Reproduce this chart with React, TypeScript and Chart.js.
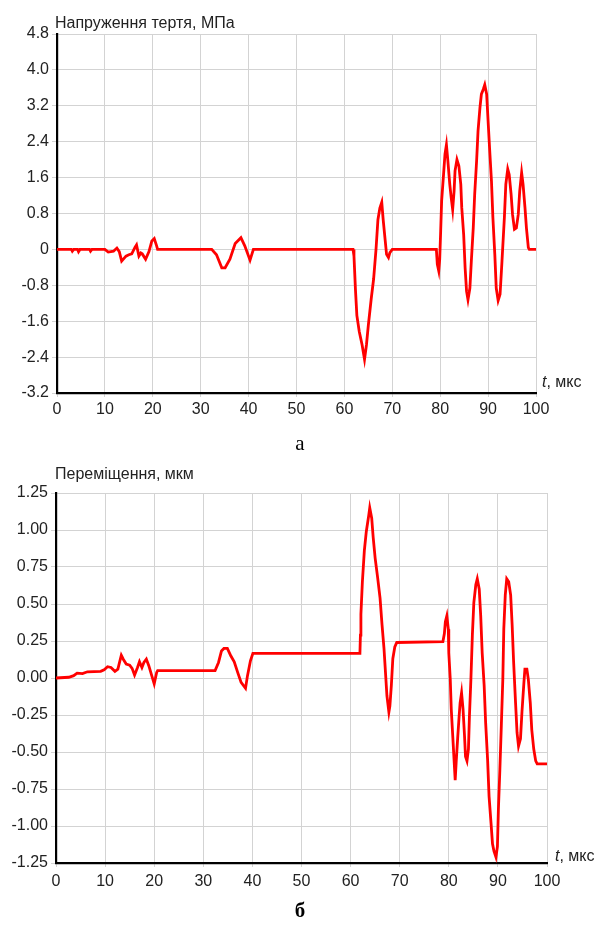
import React, { useEffect, useRef } from "react";
import { Chart, registerables } from "chart.js";

Chart.register(...registerables);

// ---- Data ----
const X_TICKS = [0, 10, 20, 30, 40, 50, 60, 70, 80, 90, 100];
const Y1_TICKS = [-3.2, -2.4, -1.6, -0.8, 0, 0.8, 1.6, 2.4, 3.2, 4.0, 4.8];
const Y2_TICKS = [-1.25, -1.0, -0.75, -0.5, -0.25, 0, 0.25, 0.5, 0.75, 1.0, 1.25];

const TITLE_1 = "Напруження тертя, МПа";
const TITLE_2 = "Переміщення, мкм";
const X_UNIT = ", мкс";

// Friction stress, MPa
const T1 = [
  0, 3.0, 3.2, 3.5, 4.3, 4.5, 4.8, 6.8, 7.0, 7.3, 10.0, 10.7, 11.8, 12.5, 13.0, 13.5,
  14.4, 15.0, 15.6, 16.3, 16.6, 17.1, 17.5, 17.8, 18.5, 19.2, 19.8, 20.3, 20.8, 21.0,
  32.3, 33.3, 34.4, 35.1, 36.1, 37.2, 38.4, 39.2, 40.3, 41.0,
  61.8, 62.0, 62.3, 62.6, 63.1, 63.7, 64.2, 64.6, 65.0, 65.6, 66.1, 66.6, 67.0, 67.4,
  67.8, 68.1, 68.5, 68.8, 69.2, 69.5, 70.0,
  79.2, 79.4, 79.7, 79.9, 80.1, 80.3, 80.7, 81.0, 81.3, 81.6, 82.0, 82.3, 82.6, 82.9,
  83.1, 83.5, 83.9, 84.3, 84.5, 84.9, 85.2, 85.5, 85.8, 86.2, 86.5, 86.9, 87.2, 87.6,
  87.9, 88.3, 88.6, 89.0, 89.3, 89.7, 90.0, 90.3, 90.7, 91.0, 91.4, 91.7, 92.1, 92.5,
  92.9, 93.4, 93.7, 94.1, 94.4, 94.8, 95.1, 95.5, 95.9, 96.3, 96.6, 97.0, 97.3, 97.7,
  98.0, 98.4, 98.6, 100,
];
const STRESS = [
  0, 0, -0.04, 0, 0, -0.05, 0, 0, -0.04, 0, 0, -0.06, -0.04, 0.03, -0.05, -0.26,
  -0.15, -0.12, -0.1, 0.05, 0.1, -0.15, -0.08, -0.1, -0.22, -0.05, 0.19, 0.24, 0.08, 0,
  0, -0.12, -0.41, -0.41, -0.22, 0.13, 0.26, 0.08, -0.24, 0,
  0, -0.15, -0.88, -1.47, -1.83, -2.13, -2.45, -2.13, -1.69, -1.1, -0.66, 0, 0.66, 0.92,
  1.05, 0.66, 0.22, -0.11, -0.18, -0.07, 0,
  0, -0.33, -0.48, -0.22, 0.41, 1.08, 1.67, 2.12, 2.33, 1.97, 1.45, 1.15, 0.89, 1.3,
  1.75, 2.0, 1.86, 1.45, 0.93, 0.33, -0.41, -0.93, -1.12, -0.86, -0.26, 0.48, 1.23, 1.97,
  2.64, 3.16, 3.46, 3.57, 3.67, 3.46, 2.86, 2.27, 1.53, 0.71, -0.11, -0.86, -1.14, -1.0,
  -0.26, 0.71, 1.45, 1.79, 1.67, 1.23, 0.78, 0.45, 0.48, 0.78, 1.3, 1.71, 1.45, 0.93,
  0.48, 0.04, 0, 0,
];

// Displacement, µm
const T2 = [
  0, 2.6, 3.6, 4.3, 5.4, 6.4, 9.1, 9.8, 10.5, 11.2, 12.0, 12.6, 13.3, 13.7, 14.3, 15.0,
  15.5, 16.0, 16.6, 17.0, 17.5, 17.9, 18.4, 18.9, 19.5, 20.0, 20.5, 20.7,
  32.4, 33.1, 33.7, 34.2, 34.9, 35.6, 36.3, 37.0, 37.7, 38.6, 39.0, 39.6, 40.1,
  61.9, 62.0, 62.1, 62.4, 62.8, 63.2, 63.7, 63.9, 64.3, 64.6, 65.0, 65.5, 66.0, 66.4,
  66.8, 67.1, 67.4, 67.8, 68.0, 68.3, 68.6, 69.0, 69.4,
  78.8, 79.1, 79.3, 79.6, 79.9, 80.0, 80.3, 80.5, 80.8, 81.1, 81.3, 81.5, 81.8, 82.1,
  82.3, 82.6, 82.9, 83.2, 83.4, 83.7, 84.0, 84.2, 84.5, 84.8, 85.1, 85.5, 85.8, 86.2,
  86.5, 86.8, 87.2, 87.5, 87.9, 88.2, 88.6, 88.9, 89.2, 89.6, 89.9, 90.1, 90.4, 90.7,
  91.0, 91.2, 91.5, 91.8, 92.2, 92.6, 92.9, 93.2, 93.6, 93.9, 94.2, 94.6, 94.9, 95.3,
  95.5, 95.9, 96.2, 96.6, 96.9, 97.3, 97.7, 98.0, 100,
];
const DISP = [
  0, 0.005, 0.016, 0.033, 0.03, 0.042, 0.045, 0.056, 0.076, 0.071, 0.045, 0.06, 0.154, 0.127, 0.094, 0.087,
  0.065, 0.02, 0.071, 0.11, 0.071, 0.105, 0.127, 0.083, 0.016, -0.04, 0.038, 0.05,
  0.05, 0.105, 0.183, 0.2, 0.2, 0.15, 0.11, 0.038, -0.03, -0.07, 0.016, 0.116, 0.167,
  0.167, 0.29, 0.43, 0.65, 0.86, 0.99, 1.1, 1.15, 1.08, 0.95, 0.81, 0.68, 0.54, 0.36,
  0.2, 0.04, -0.12, -0.23, -0.19, -0.05, 0.13, 0.21, 0.24,
  0.245, 0.3, 0.38, 0.42, 0.33, 0.17, -0.01, -0.21, -0.39, -0.57, -0.69, -0.57, -0.41, -0.26,
  -0.17, -0.1, -0.21, -0.39, -0.53, -0.56, -0.48, -0.26, -0.01, 0.29, 0.51, 0.63, 0.67, 0.6,
  0.42, 0.17, -0.05, -0.3, -0.55, -0.8, -0.98, -1.12, -1.17, -1.21, -1.14, -0.89, -0.62, -0.32,
  -0.01, 0.33, 0.56, 0.67, 0.65, 0.56, 0.36, 0.11, -0.17, -0.37, -0.46, -0.41, -0.23, -0.03,
  0.06, 0.06, -0.01, -0.17, -0.35, -0.48, -0.56, -0.58, -0.58,
];

const FONT = "'Liberation Sans', Arial, sans-serif";
const GRID = "#d3d3d3";
const TEXT = "#222222";
const FS = 16;

type Cfg = {
  t: number[];
  v: number[];
  yTicks: number[];
  decimals: number;
  padTop: number;
  padRight: number;
  yWidth: number;
  xHeight: number;
  yPad: number;
  xPad: number;
};

function makeConfig(c: Cfg): any {
  const pts = c.t.map((x, i) => ({ x, y: c.v[i] }));
  const yMin = c.yTicks[0];
  const yMax = c.yTicks[c.yTicks.length - 1];
  return {
    type: "line",
    data: {
      datasets: [
        {
          data: pts,
          borderColor: "#ff0000",
          borderWidth: 2.8,
          pointRadius: 0,
          tension: 0,
          fill: false,
        },
      ],
    },
    options: {
      animation: false,
      responsive: false,
      maintainAspectRatio: false,
      layout: { padding: { top: c.padTop, right: c.padRight, left: 0, bottom: 0 } },
      plugins: { legend: { display: false }, tooltip: { enabled: false }, title: { display: false } },
      scales: {
        x: {
          type: "linear",
          min: 0,
          max: 100,
          afterBuildTicks: (s: any) => {
            s.ticks = X_TICKS.map((value) => ({ value }));
          },
          afterFit: (s: any) => {
            s.height = c.xHeight;
          },
          grid: { color: GRID, lineWidth: 1, drawTicks: true, tickLength: 4 },
          border: { display: true, color: "#000000", width: 2.2 },
          ticks: {
            color: TEXT,
            font: { family: FONT, size: FS },
            padding: c.xPad,
            maxRotation: 0,
            autoSkip: false,
            callback: (v: any) => String(Math.round(Number(v))),
          },
        },
        y: {
          type: "linear",
          min: yMin,
          max: yMax,
          afterBuildTicks: (s: any) => {
            s.ticks = c.yTicks.map((value) => ({ value }));
          },
          afterFit: (s: any) => {
            s.width = c.yWidth;
          },
          grid: { color: GRID, lineWidth: 1, drawTicks: true, tickLength: 5 },
          border: { display: true, color: "#000000", width: 2.2 },
          ticks: {
            color: TEXT,
            font: { family: FONT, size: FS },
            padding: c.yPad,
            autoSkip: false,
            callback: (v: any) => {
              const n = Number(v);
              if (Math.abs(n) < 1e-9) return c.decimals === 1 ? "0" : "0.00";
              return n.toFixed(c.decimals);
            },
          },
        },
      },
    },
  };
}

function ChartCanvas(props: { cfg: Cfg; top: number; height: number }) {
  const ref = useRef<HTMLCanvasElement | null>(null);
  useEffect(() => {
    if (!ref.current) return;
    const chart = new Chart(ref.current, makeConfig(props.cfg));
    return () => chart.destroy();
  }, []);
  return (
    <canvas
      ref={ref}
      width={597}
      height={props.height}
      style={{ position: "absolute", left: 0, top: props.top, width: 597, height: props.height }}
    />
  );
}

const textStyle = (left: number, top: number, extra: any = {}): any => ({
  position: "absolute",
  left,
  top,
  fontFamily: FONT,
  fontSize: FS,
  lineHeight: FS + "px",
  color: TEXT,
  whiteSpace: "nowrap",
  ...extra,
});

export default function App() {
  const cfg1: Cfg = {
    t: T1,
    v: STRESS,
    yTicks: Y1_TICKS,
    decimals: 1,
    padTop: 34,
    padRight: 61,
    yWidth: 57,
    xHeight: 37,
    yPad: 3,
    xPad: 3,
  };
  const cfg2: Cfg = {
    t: T2,
    v: DISP,
    yTicks: Y2_TICKS,
    decimals: 2,
    padTop: 53,
    padRight: 50,
    yWidth: 56,
    xHeight: 37,
    yPad: 3,
    xPad: 5,
  };
  return (
    <div style={{ position: "absolute", left: 0, top: 0, width: 597, height: 926, background: "#ffffff" }}>
      <ChartCanvas cfg={cfg1} top={0} height={430} />
      <ChartCanvas cfg={cfg2} top={440} height={460} />
      <div style={textStyle(55, 14.7)}>{TITLE_1}</div>
      <div style={textStyle(542, 373.5)}>
        <i>t</i>
        {X_UNIT}
      </div>
      <div style={textStyle(55, 465.5)}>{TITLE_2}</div>
      <div style={textStyle(555, 847.5)}>
        <i>t</i>
        {X_UNIT}
      </div>
      <div
        style={{
          position: "absolute",
          left: 0,
          width: 600,
          top: 433,
          textAlign: "center",
          fontFamily: "'Liberation Serif', 'Times New Roman', serif",
          fontSize: 21,
          lineHeight: "21px",
          color: "#000",
        }}
      >
        а
      </div>
      <div
        style={{
          position: "absolute",
          left: 0,
          width: 600,
          top: 900,
          textAlign: "center",
          fontFamily: "'Liberation Serif', 'Times New Roman', serif",
          fontSize: 21,
          fontWeight: "bold",
          lineHeight: "21px",
          color: "#000",
        }}
      >
        б
      </div>
    </div>
  );
}
